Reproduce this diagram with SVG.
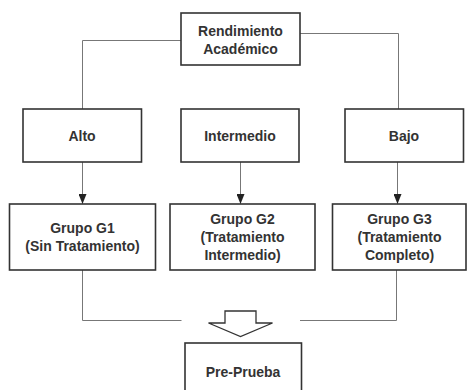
<svg xmlns="http://www.w3.org/2000/svg" width="467" height="390" viewBox="0 0 467 390">
<style>
.box{fill:#fff;stroke:#333;stroke-width:1.6}
.lbl{font-family:"Liberation Sans",Arial,sans-serif;font-weight:bold;font-size:14px;fill:#333;text-anchor:middle}
.con{fill:none;stroke:#777;stroke-width:1}
</style>
<defs>
<marker id="ah" viewBox="0 0 10 8" refX="10" refY="4" markerWidth="10" markerHeight="8" markerUnits="userSpaceOnUse" orient="auto">
<path d="M0,0 L10,4 L0,8 Z" fill="#222"/>
</marker>
</defs>
<rect width="467" height="390" fill="#fff"/>
<g id="connectors">
<path class="con" d="M181,40.5 H82.5 V109"/>
<path class="con" d="M300,33.5 H398.5 V109"/>
<path class="con" d="M82.5,162 V204" marker-end="url(#ah)"/>
<path class="con" d="M240.5,162 V204" marker-end="url(#ah)"/>
<path class="con" d="M397.5,162 V204" marker-end="url(#ah)"/>
<path class="con" d="M82.5,270 V320.5 H181.5"/>
<path class="con" d="M396.5,270 V320.5 H300"/>
<polygon points="225,311 256,311 256,323 272.5,323 240.5,336.5 208.5,323 225,323" fill="#fff" stroke="#333" stroke-width="1.3"/>
</g>
<g id="n-rendimiento">
<rect class="box" x="181" y="13" width="119" height="52"/>
<text class="lbl" x="240.5" y="36">Rendimiento</text>
<text class="lbl" x="240.5" y="54">Académico</text>
</g>
<g id="n-alto">
<rect class="box" x="23" y="109" width="118.5" height="53"/>
<text class="lbl" x="82" y="140.5">Alto</text>
</g>
<g id="n-intermedio">
<rect class="box" x="181" y="109" width="118" height="53"/>
<text class="lbl" x="240" y="140.5">Intermedio</text>
</g>
<g id="n-bajo">
<rect class="box" x="345" y="109" width="118.5" height="53"/>
<text class="lbl" x="404" y="140.5">Bajo</text>
</g>
<g id="n-g1">
<rect class="box" x="9.5" y="204" width="146" height="66"/>
<text class="lbl" x="82.5" y="233">Grupo G1</text>
<text class="lbl" x="82.5" y="251">(Sin Tratamiento)</text>
</g>
<g id="n-g2">
<rect class="box" x="170" y="204" width="145" height="66"/>
<text class="lbl" x="242.5" y="224">Grupo G2</text>
<text class="lbl" x="242.5" y="242">(Tratamiento</text>
<text class="lbl" x="242.5" y="260">Intermedio)</text>
</g>
<g id="n-g3">
<rect class="box" x="332.5" y="204" width="133.5" height="66"/>
<text class="lbl" x="399.5" y="224">Grupo G3</text>
<text class="lbl" x="399.5" y="242">(Tratamiento</text>
<text class="lbl" x="399.5" y="260">Completo)</text>
</g>
<g id="n-preprueba">
<rect class="box" x="185" y="343" width="116.5" height="60"/>
<text class="lbl" x="243" y="377">Pre-Prueba</text>
</g>
</svg>
